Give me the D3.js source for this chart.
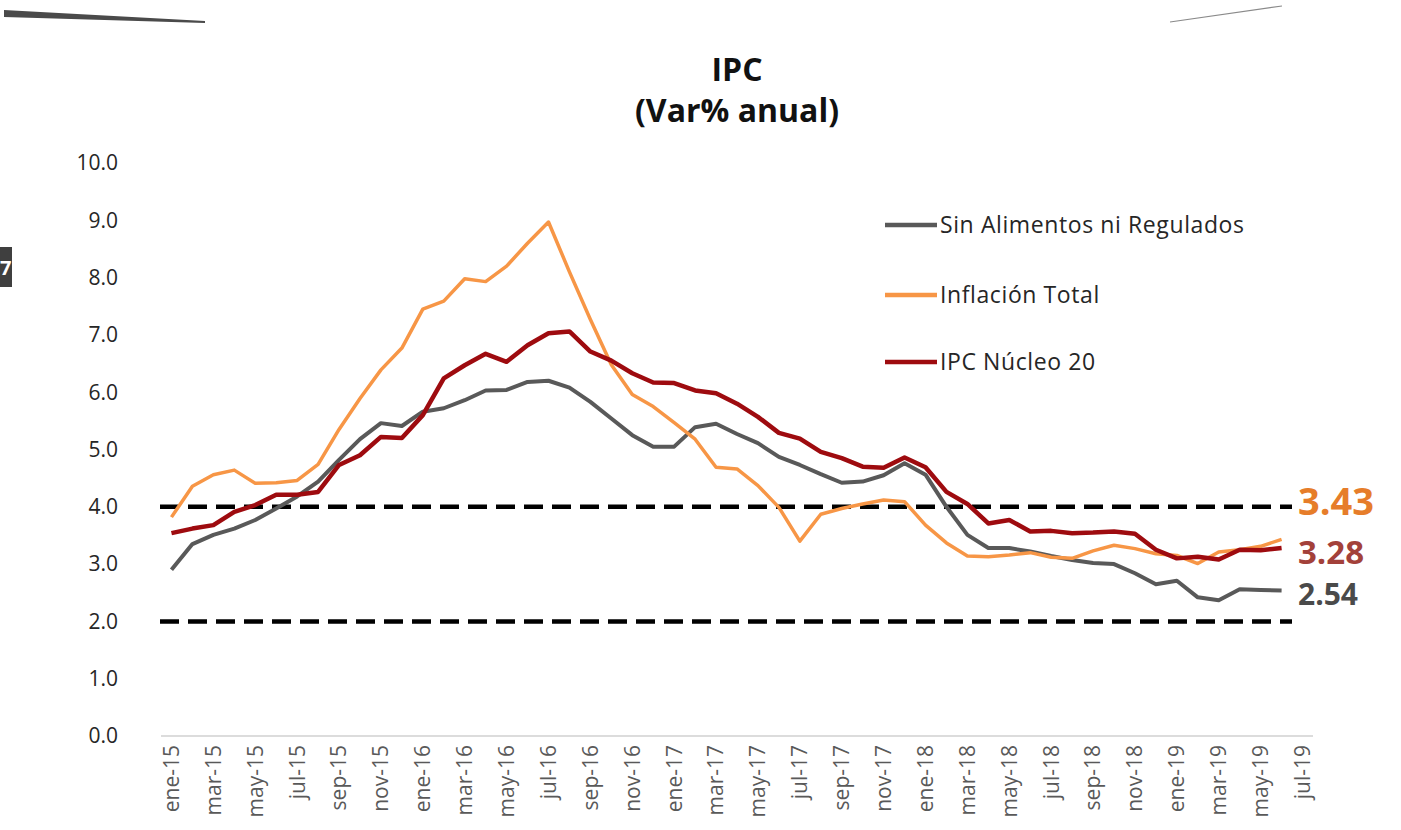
<!DOCTYPE html>
<html>
<head>
<meta charset="utf-8">
<script src="https://cdn.jsdelivr.net/npm/d3@7"></script>
<style>
    body { margin: 0; background: #ffffff; }
    svg { display: block; font-family: "Open Sans", sans-serif; }
</style>
</head>
<body>
<script>
"use strict";

// months on the category axis (ene-15 .. jul-19)
let months = [
    "ene-15","feb-15","mar-15","abr-15","may-15","jun-15","jul-15","ago-15","sep-15","oct-15","nov-15","dic-15",
    "ene-16","feb-16","mar-16","abr-16","may-16","jun-16","jul-16","ago-16","sep-16","oct-16","nov-16","dic-16",
    "ene-17","feb-17","mar-17","abr-17","may-17","jun-17","jul-17","ago-17","sep-17","oct-17","nov-17","dic-17",
    "ene-18","feb-18","mar-18","abr-18","may-18","jun-18","jul-18","ago-18","sep-18","oct-18","nov-18","dic-18",
    "ene-19","feb-19","mar-19","abr-19","may-19","jun-19","jul-19"
];

let sin_alimentos = [2.90,3.35,3.51,3.62,3.77,3.97,4.18,4.44,4.82,5.18,5.46,5.41,
    5.66,5.72,5.86,6.03,6.04,6.18,6.20,6.08,5.83,5.54,5.25,5.05,
    5.05,5.39,5.45,5.27,5.11,4.87,4.73,4.57,4.42,4.44,4.55,4.76,
    4.56,4.00,3.51,3.28,3.28,3.22,3.14,3.07,3.02,3.00,2.84,2.65,
    2.71,2.42,2.37,2.56,2.55,2.54];

let inflacion_total = [3.82,4.36,4.56,4.64,4.41,4.42,4.46,4.74,5.35,5.89,6.39,6.77,
    7.45,7.59,7.98,7.93,8.20,8.60,8.97,8.10,7.27,6.48,5.96,5.75,
    5.47,5.18,4.69,4.66,4.37,3.99,3.40,3.87,3.97,4.05,4.12,4.09,
    3.68,3.37,3.14,3.13,3.16,3.20,3.12,3.10,3.23,3.33,3.27,3.18,
    3.15,3.01,3.21,3.25,3.31,3.43];

let nucleo_20 = [3.54,3.62,3.68,3.91,4.03,4.21,4.21,4.26,4.73,4.90,5.22,5.20,
    5.60,6.24,6.47,6.67,6.53,6.82,7.03,7.06,6.71,6.55,6.33,6.17,
    6.16,6.03,5.98,5.80,5.57,5.29,5.19,4.96,4.85,4.70,4.68,4.86,
    4.69,4.26,4.05,3.71,3.77,3.57,3.58,3.54,3.55,3.57,3.53,3.25,
    3.10,3.13,3.08,3.25,3.24,3.28];

let y_ticks = [0,1,2,3,4,5,6,7,8,9,10];
let target_lines = [4, 2];

let series = [
    { name: "Sin Alimentos ni Regulados", values: sin_alimentos, color: "#595959", width: 4, end_color: "#4a4a4a", end_size: 30 },
    { name: "Inflación Total", values: inflacion_total, color: "#F79646", width: 3.5, end_color: "#E67D2A", end_size: 38 },
    { name: "IPC Núcleo 20", values: nucleo_20, color: "#9E0B0F", width: 4.5, end_color: "#A3413A", end_size: 33 }
];

draw_chart();

function draw_chart () {
    const wSvg = 1401, hSvg = 830;

    let svg = d3.select("body").append("svg")
        .attr("width", wSvg).attr("height", hSvg);

    let xScale = d3.scaleBand()
        .domain(months)
        .range([161, 1313]);

    let yScale = d3.scaleLinear()
        .domain([0, 10])
        .range([736, 163]);

    function setX (d, i) { return xScale(months[i]) + xScale.bandwidth() / 2; }

    draw_decorations(svg);

    // title
    svg.append("text")
        .attr("x", 737).attr("y", 81)
        .attr("text-anchor", "middle")
        .attr("font-size", 32).attr("font-weight", "bold").attr("fill", "#111")
        .text("IPC");
    svg.append("text")
        .attr("x", 737).attr("y", 122)
        .attr("text-anchor", "middle")
        .attr("font-size", 32).attr("font-weight", "bold").attr("fill", "#111")
        .text("(Var% anual)");

    // y tick labels
    svg.append("g").selectAll("text")
        .data(y_ticks)
        .enter()
        .append("text")
        .attr("x", 118)
        .attr("y", d => yScale(d))
        .attr("dy", "0.35em")
        .attr("text-anchor", "end")
        .attr("font-size", 21).attr("fill", "#262626")
        .text(d => d.toFixed(1));

    // x axis line
    svg.append("line")
        .attr("x1", xScale.range()[0]).attr("x2", xScale.range()[1])
        .attr("y1", yScale(0)).attr("y2", yScale(0))
        .attr("stroke", "#d0d0d0").attr("stroke-width", 1.5);

    // x labels, every second month
    svg.append("g").selectAll("text")
        .data(months.filter((m, i) => i % 2 == 0))
        .enter()
        .append("text")
        .attr("transform", d => `translate(${xScale(d) + xScale.bandwidth() / 2}, 745) rotate(-90)`)
        .attr("dy", "0.35em")
        .attr("text-anchor", "end")
        .attr("font-size", 21).attr("fill", "#595959")
        .text(d => d);

    // dashed target band
    svg.append("g").selectAll("line")
        .data(target_lines)
        .enter()
        .append("line")
        .attr("x1", 160).attr("x2", 1292)
        .attr("y1", d => yScale(d)).attr("y2", d => yScale(d))
        .attr("stroke", "#000").attr("stroke-width", 4.5)
        .attr("stroke-dasharray", "19,9");

    // series lines
    let line = d3.line()
        .x(setX)
        .y(d => yScale(d));

    svg.append("g").selectAll("path")
        .data(series)
        .enter()
        .append("path")
        .attr("d", s => line(s.values))
        .attr("fill", "none")
        .attr("stroke", s => s.color)
        .attr("stroke-width", s => s.width)
        .attr("stroke-linejoin", "round");

    // last values
    let end_y = { "Inflación Total": 502, "IPC Núcleo 20": 552, "Sin Alimentos ni Regulados": 594 };
    svg.append("g").selectAll("text")
        .data(series)
        .enter()
        .append("text")
        .attr("x", 1298)
        .attr("y", s => end_y[s.name])
        .attr("dy", "0.35em")
        .attr("font-size", s => s.end_size).attr("font-weight", "bold")
        .attr("fill", s => s.end_color)
        .text(s => s.values[s.values.length - 1].toFixed(2));

    // legend
    let legend = svg.append("g").selectAll("g")
        .data(series)
        .enter()
        .append("g")
        .attr("transform", (s, i) => `translate(885, ${[225, 295, 362][i]})`);
    legend.append("line")
        .attr("x1", 0).attr("x2", 52)
        .attr("stroke", s => s.color).attr("stroke-width", 4.5);
    legend.append("text")
        .attr("x", 55).attr("dy", "0.35em")
        .attr("font-size", 23).attr("letter-spacing", 0.6).attr("fill", "#262626")
        .text(s => s.name);
}

function draw_decorations (svg) {
    // slide remnants around the chart
    svg.append("path")
        .attr("d", "M4,10 L205,21 L205,23 L4,17 Z")
        .attr("fill", "#4a4a4a");
    svg.append("line")
        .attr("x1", 1170).attr("y1", 22).attr("x2", 1282).attr("y2", 6)
        .attr("stroke", "#8a8a8a").attr("stroke-width", 1.2);
    svg.append("rect")
        .attr("x", 0).attr("y", 247).attr("width", 12).attr("height", 40)
        .attr("fill", "#3f3f3f");
    svg.append("text")
        .attr("x", 0).attr("y", 275)
        .attr("font-size", 20).attr("font-weight", "bold").attr("fill", "#fff")
        .text("7");
}
</script>
</body>
</html>
